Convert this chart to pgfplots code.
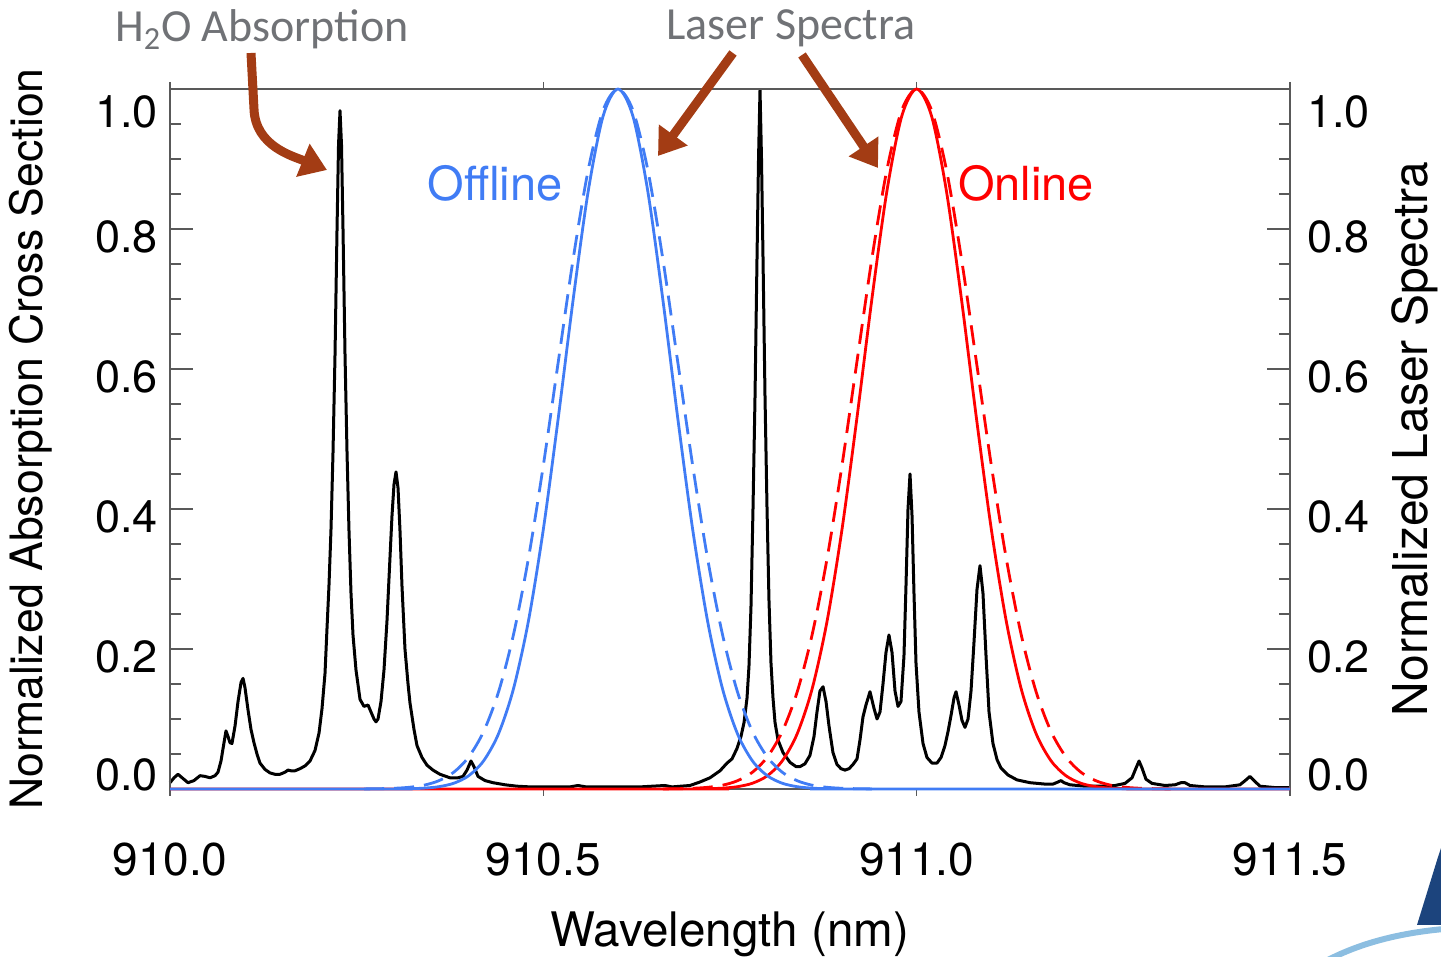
\documentclass[border=0pt]{standalone}
\usepackage{fontspec}
\setmainfont{TeX Gyre Heros}
\newfontfamily\calibri{Carlito}
\usepackage{pgfplots}
\pgfplotsset{compat=1.18}
\usetikzlibrary{arrows.meta}
\definecolor{offblue}{RGB}{64,124,245}
\definecolor{arrowbrown}{RGB}{163,60,20}
\definecolor{notegray}{RGB}{112,114,118}
\definecolor{logoblue}{RGB}{28,68,125}
\definecolor{swoosh}{RGB}{140,190,225}

\pgfplotsset{
  frame/.style={at={(0pt,0pt)}, anchor=south west, scale only axis,
    width=560pt, height=350pt,
    xmin=910, xmax=911.5, ymin=0, ymax=1, clip=false,
    axis line style={line width=0.8pt, black!65},
    every tick/.style={line width=0.8pt, black!65},
    tick align=inside, major tick length=11.5pt, minor tick length=5.5pt,
    xtick=\empty,
    ytick={0,0.2,0.4,0.6,0.8,1}, yticklabels={}, minor y tick num=3,
    extra y ticks={0.02,0.189,0.389,0.589,0.789,0.967},
    extra y tick labels={0.0,0.2,0.4,0.6,0.8,1.0},
    extra y tick style={major tick length=0pt},
    yticklabel style={font=\fontsize{22.5}{22.5}\selectfont},
  },
}

\begin{document}
\begin{tikzpicture}
\path[use as bounding box] (-85pt,-84pt) rectangle (635.5pt,394.5pt);

% H2O absorption cross section
\begin{axis}[frame, ytick pos=left,
  yticklabel style={xshift=-2.5pt},
  extra x ticks={910,910.5,911,911.5},
  extra x tick labels={910.0,910.5,911.0,911.5},
  extra x tick style={tick align=outside, major tick length=3.5pt},
  xticklabel style={font=\fontsize{23}{23}\selectfont, yshift=-20pt},
  xlabel={Wavelength (nm)},
  ylabel={Normalized Absorption Cross Section},
  every axis x label/.style={at={(rel axis cs:0.5,0)}, yshift=-79pt, anchor=base, font=\fontsize{23.8}{24}\selectfont},
  every axis y label/.style={at={(rel axis cs:0,0.5)}, xshift=-69.5pt, rotate=90, anchor=center, font=\fontsize{22.3}{24}\selectfont},
]
\addplot[black, line width=1.5pt, line join=round] coordinates {
(910.0000,0.009) (910.0054,0.016) (910.0107,0.021) (910.0174,0.015) (910.0241,0.009)
(910.0321,0.012) (910.0402,0.019) (910.0469,0.018) (910.0536,0.016) (910.0603,0.019)
(910.0643,0.024) (910.0683,0.040) (910.0723,0.066) (910.0750,0.083) (910.0777,0.075)
(910.0804,0.066) (910.0830,0.065) (910.0871,0.090) (910.0911,0.125) (910.0951,0.152)
(910.0978,0.158) (910.1004,0.145) (910.1045,0.113) (910.1085,0.085) (910.1125,0.066)
(910.1165,0.050) (910.1205,0.037) (910.1272,0.028) (910.1339,0.023) (910.1406,0.021)
(910.1473,0.021) (910.1540,0.024) (910.1580,0.027) (910.1621,0.026) (910.1674,0.026)
(910.1741,0.029) (910.1808,0.033) (910.1875,0.040) (910.1942,0.055) (910.1996,0.080)
(910.2036,0.115) (910.2076,0.165) (910.2103,0.230) (910.2129,0.290) (910.2156,0.370)
(910.2183,0.480) (910.2210,0.620) (910.2237,0.800) (910.2257,0.920) (910.2277,0.969)
(910.2297,0.920) (910.2317,0.800) (910.2344,0.620) (910.2371,0.480) (910.2397,0.370)
(910.2424,0.280) (910.2451,0.220) (910.2491,0.170) (910.2545,0.128) (910.2598,0.118)
(910.2652,0.120) (910.2692,0.110) (910.2732,0.100) (910.2759,0.096) (910.2786,0.100)
(910.2826,0.125) (910.2866,0.170) (910.2906,0.240) (910.2946,0.330) (910.2973,0.390)
(910.3000,0.435) (910.3027,0.453) (910.3054,0.430) (910.3080,0.370) (910.3107,0.290)
(910.3147,0.200) (910.3188,0.150) (910.3214,0.123) (910.3268,0.085) (910.3308,0.062)
(910.3375,0.045) (910.3442,0.034) (910.3522,0.027) (910.3616,0.021) (910.3750,0.016)
(910.3857,0.016) (910.3924,0.018) (910.3978,0.027) (910.4031,0.040) (910.4071,0.032)
(910.4125,0.018) (910.4219,0.012) (910.4326,0.009) (910.4487,0.006) (910.4647,0.004)
(910.4821,0.003) (910.5089,0.003) (910.5357,0.003) (910.5464,0.005) (910.5571,0.003)
(910.5893,0.003) (910.6295,0.003) (910.6629,0.005) (910.6723,0.003) (910.6964,0.005)
(910.7098,0.010) (910.7232,0.016) (910.7366,0.026) (910.7460,0.037) (910.7527,0.043)
(910.7594,0.058) (910.7647,0.075) (910.7688,0.095) (910.7728,0.130) (910.7754,0.175)
(910.7781,0.260) (910.7808,0.400) (910.7835,0.560) (910.7862,0.760) (910.7882,0.900)
(910.7902,0.999) (910.7922,0.900) (910.7942,0.760) (910.7969,0.560) (910.7996,0.400)
(910.8022,0.270) (910.8049,0.180) (910.8076,0.130) (910.8103,0.095) (910.8143,0.070)
(910.8210,0.052) (910.8304,0.038) (910.8384,0.032) (910.8438,0.032) (910.8504,0.036)
(910.8571,0.048) (910.8625,0.075) (910.8665,0.110) (910.8705,0.140) (910.8746,0.146)
(910.8786,0.125) (910.8826,0.090) (910.8879,0.052) (910.8933,0.035) (910.8987,0.029)
(910.9040,0.027) (910.9094,0.029) (910.9147,0.035) (910.9201,0.043) (910.9241,0.070)
(910.9281,0.103) (910.9321,0.120) (910.9375,0.139) (910.9429,0.115) (910.9469,0.100)
(910.9509,0.110) (910.9549,0.150) (910.9589,0.195) (910.9629,0.220) (910.9670,0.195)
(910.9710,0.140) (910.9750,0.118) (910.9790,0.125) (910.9830,0.190) (910.9857,0.290)
(910.9884,0.400) (910.9911,0.450) (910.9938,0.390) (910.9964,0.280) (910.9991,0.180)
(911.0031,0.110) (911.0085,0.065) (911.0138,0.045) (911.0205,0.037) (911.0272,0.037)
(911.0326,0.045) (911.0379,0.062) (911.0420,0.082) (911.0460,0.105) (911.0500,0.130)
(911.0527,0.139) (911.0567,0.120) (911.0607,0.098) (911.0647,0.088) (911.0688,0.100)
(911.0728,0.140) (911.0768,0.210) (911.0808,0.285) (911.0848,0.319) (911.0888,0.280)
(911.0929,0.190) (911.0969,0.110) (911.1022,0.065) (911.1076,0.042) (911.1129,0.030)
(911.1223,0.020) (911.1344,0.013) (911.1518,0.009) (911.1719,0.007) (911.1826,0.007)
(911.1893,0.010) (911.1933,0.012) (911.1973,0.009) (911.2054,0.006) (911.2254,0.004)
(911.2455,0.004) (911.2656,0.005) (911.2790,0.008) (911.2884,0.016) (911.2938,0.030)
(911.2978,0.040) (911.3018,0.030) (911.3071,0.014) (911.3152,0.008) (911.3326,0.005)
(911.3460,0.006) (911.3540,0.009) (911.3594,0.009) (911.3661,0.005) (911.3862,0.003)
(911.4129,0.003) (911.4330,0.006) (911.4411,0.013) (911.4464,0.018) (911.4518,0.012)
(911.4598,0.004) (911.4799,0.002) (911.5000,0.002)
};
\end{axis}

% laser spectra
\begin{axis}[frame, ytick pos=right, yticklabel pos=right,
  yticklabel style={xshift=5pt},
  ylabel={Normalized Laser Spectra},
  every axis y label/.style={at={(rel axis cs:1,0.5)}, xshift=62.5pt, rotate=90, anchor=center, font=\fontsize{24}{24}\selectfont},
]
% online, solid
\addplot[red, line width=1.4pt, smooth] coordinates {
(910.00,0) (910.70,0.0001) (910.72,0.0004) (910.74,0.0012) (910.76,0.0033) (910.78,0.0082)
(910.80,0.0189) (910.82,0.0402) (910.84,0.0789) (910.86,0.1431) (910.88,0.2397)
(910.90,0.3709) (910.92,0.5301) (910.94,0.6997) (910.96,0.8533) (910.98,0.9611)
(911.00,1.0000) (911.02,0.9611) (911.04,0.8533) (911.06,0.6997) (911.08,0.5301)
(911.10,0.3709) (911.12,0.2397) (911.14,0.1431) (911.16,0.0789) (911.18,0.0402)
(911.20,0.0189) (911.22,0.0082) (911.24,0.0033) (911.26,0.0012) (911.28,0.0004)
(911.30,0.0001) (911.50,0)
};
% online, dashed
\addplot[red, line width=1.4pt, smooth, dash pattern=on 10pt off 5pt] coordinates {
(910.66,0.0001) (910.68,0.0004) (910.70,0.0010) (910.72,0.0024) (910.74,0.0054)
(910.76,0.0118) (910.78,0.0239) (910.80,0.0457) (910.82,0.0821) (910.84,0.1387)
(910.86,0.2204) (910.88,0.3292) (910.90,0.4623) (910.92,0.6103) (910.94,0.7575)
(910.96,0.8839) (910.98,0.9696) (911.00,1.0000) (911.02,0.9696) (911.04,0.8839)
(911.06,0.7575) (911.08,0.6103) (911.10,0.4623) (911.12,0.3292) (911.14,0.2204)
(911.16,0.1387) (911.18,0.0821) (911.20,0.0457) (911.22,0.0239) (911.24,0.0118)
(911.26,0.0054) (911.28,0.0024) (911.30,0.0010) (911.32,0.0004) (911.34,0.0001)
};
% offline, solid
\addplot[offblue, line width=1.4pt, smooth] coordinates {
(910.00,0) (910.30,0.0001) (910.32,0.0004) (910.34,0.0012) (910.36,0.0033) (910.38,0.0082)
(910.40,0.0189) (910.42,0.0402) (910.44,0.0789) (910.46,0.1431) (910.48,0.2397)
(910.50,0.3709) (910.52,0.5301) (910.54,0.6997) (910.56,0.8533) (910.58,0.9611)
(910.60,1.0000) (910.62,0.9611) (910.64,0.8533) (910.66,0.6997) (910.68,0.5301)
(910.70,0.3709) (910.72,0.2397) (910.74,0.1431) (910.76,0.0789) (910.78,0.0402)
(910.80,0.0189) (910.82,0.0082) (910.84,0.0033) (910.86,0.0012) (910.88,0.0004)
(910.90,0.0001) (911.50,0)
};
% offline, dashed
\addplot[offblue, line width=1.4pt, smooth, dash pattern=on 10pt off 5pt] coordinates {
(910.26,0.0001) (910.28,0.0004) (910.30,0.0010) (910.32,0.0024) (910.34,0.0054)
(910.36,0.0118) (910.38,0.0239) (910.40,0.0457) (910.42,0.0821) (910.44,0.1387)
(910.46,0.2204) (910.48,0.3292) (910.50,0.4623) (910.52,0.6103) (910.54,0.7575)
(910.56,0.8839) (910.58,0.9696) (910.60,1.0000) (910.62,0.9696) (910.64,0.8839)
(910.66,0.7575) (910.68,0.6103) (910.70,0.4623) (910.72,0.3292) (910.74,0.2204)
(910.76,0.1387) (910.78,0.0821) (910.80,0.0457) (910.82,0.0239) (910.84,0.0118)
(910.86,0.0054) (910.88,0.0024) (910.90,0.0010) (910.92,0.0004) (910.94,0.0001)
};
\end{axis}

% annotations
\node[font=\calibri\fontsize{23}{23}\selectfont, text=notegray, anchor=base] at (46pt,373.5pt) {H\textsubscript{2}O Absorption};
\node[font=\calibri\fontsize{23}{23}\selectfont, text=notegray, anchor=base] at (310.5pt,374.5pt) {Laser Spectra};
\node[font=\fontsize{23.5}{24}\selectfont, text=offblue] at (162.5pt,303pt) {Offline};
\node[font=\fontsize{23.5}{24}\selectfont, text=red] at (428pt,303pt) {Online};

\begin{scope}[arrowbrown, line width=4.5pt, -{Triangle[length=13pt,width=17pt]}]
\draw (40.5pt,368pt) -- (42pt,340pt) to[out=-88,in=158] (78.5pt,309.5pt);
\draw (281.5pt,368pt) -- (244pt,316.5pt);
\draw (316pt,367pt) -- (354pt,310.5pt);
\end{scope}

% logo fragment in the corner
\fill[logoblue] (623.5pt,-68pt) -- (634pt,-34pt) -- (636pt,-28pt) -- (636pt,-68pt) -- cycle;
\draw[swoosh, line width=3pt] (578pt,-86pt) .. controls (595pt,-77pt) and (615pt,-72pt) .. (637pt,-70pt);
\end{tikzpicture}
\end{document}
